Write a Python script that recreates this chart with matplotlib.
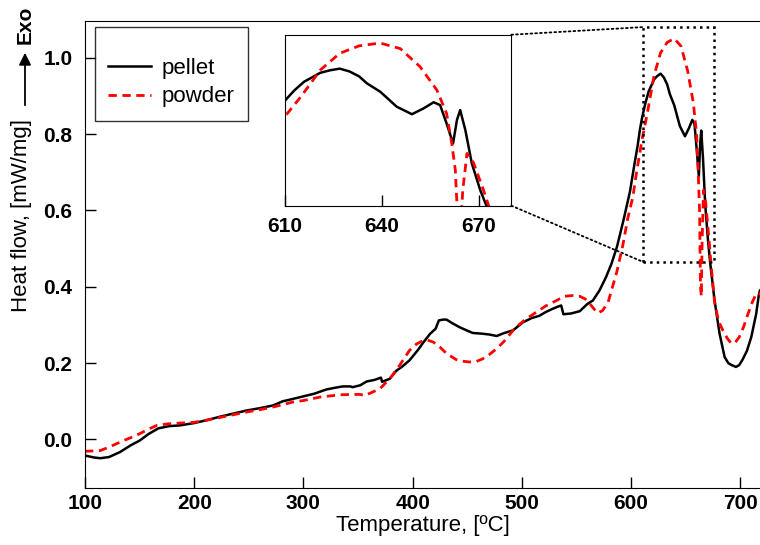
import matplotlib
matplotlib.use("Agg")
import matplotlib.pyplot as plt
from matplotlib.patches import Rectangle, ConnectionPatch

plt.rcParams["font.family"] = ["Liberation Sans", "DejaVu Sans"]

# pellet (black solid)
pellet_t = [100, 108, 114, 122, 132, 142, 150, 158, 167, 177, 187, 200, 212, 224, 236, 248,
            260, 272, 281, 290, 300, 310, 321, 328, 336, 343, 345, 352, 358, 365, 371, 372,
            379, 385, 390, 397, 405, 410, 416, 421, 424, 428, 431, 436, 443, 450, 455, 464,
            470, 477, 483, 492, 501, 509, 516, 522, 528, 533, 536, 538, 545, 553, 560, 565,
            571, 577, 582, 587, 593, 599, 603, 606, 608, 610, 613, 616, 619, 621, 624, 627,
            630, 633, 635.4, 639.5, 644.6, 649.3, 652.9, 656, 658, 660, 662, 663.2, 664.2,
            665.8, 667.8, 670.4, 672.3, 676.4, 681, 685.6, 689, 692, 696, 699, 702, 706,
            710, 714.5, 717, 718]
pellet_v = [-0.042, -0.047, -0.049, -0.046, -0.033, -0.015, -0.003, 0.014, 0.029, 0.035,
            0.037, 0.043, 0.051, 0.060, 0.068, 0.076, 0.082, 0.089, 0.100, 0.106, 0.113,
            0.120, 0.131, 0.135, 0.139, 0.139, 0.137, 0.142, 0.152, 0.156, 0.162, 0.151,
            0.159, 0.180, 0.190, 0.207, 0.235, 0.255, 0.277, 0.290, 0.312, 0.314, 0.314,
            0.305, 0.294, 0.285, 0.279, 0.277, 0.275, 0.271, 0.278, 0.286, 0.307, 0.318,
            0.324, 0.334, 0.342, 0.348, 0.351, 0.328, 0.330, 0.336, 0.355, 0.364, 0.390,
            0.425, 0.460, 0.504, 0.574, 0.650, 0.720, 0.770, 0.810, 0.842, 0.880, 0.911,
            0.930, 0.943, 0.952, 0.958, 0.948, 0.930, 0.905, 0.875, 0.821, 0.794, 0.815,
            0.837, 0.827, 0.761, 0.689, 0.773, 0.809, 0.737, 0.617, 0.521, 0.465, 0.364,
            0.277, 0.216, 0.200, 0.195, 0.190, 0.195, 0.209, 0.232, 0.268, 0.329, 0.380,
            0.390]

# powder (red dashed)
powder_t = [100, 114, 122, 132, 142, 150, 158, 166, 176, 187, 200, 212, 224, 236, 248, 260,
            272, 281, 290, 300, 315, 333, 345, 352, 356, 360, 370, 379, 388, 397, 403.5,
            409.5, 413, 419, 425, 431, 440, 446, 452, 458, 464, 470, 477, 484, 492, 498,
            504, 513, 522, 531, 539, 546, 553, 558, 562, 566, 569.6, 574, 579, 583, 587,
            592.5, 597, 601.6, 605, 610, 615, 621, 627, 633, 639.5, 645.7, 651.8, 657, 660,
            661.6, 662.7, 663.5, 664.3, 665, 666.3, 668.3, 671.4, 673, 676.4, 680, 684, 688,
            691.6, 695, 699, 703, 707, 711, 714.5, 717, 718]
powder_v = [-0.031, -0.029, -0.020, -0.007, 0.005, 0.015, 0.027, 0.037, 0.041, 0.043, 0.045,
            0.051, 0.058, 0.065, 0.072, 0.078, 0.085, 0.091, 0.098, 0.102, 0.111, 0.117,
            0.118, 0.118, 0.115, 0.120, 0.133, 0.159, 0.194, 0.233, 0.250, 0.259, 0.261,
            0.255, 0.242, 0.225, 0.209, 0.205, 0.203, 0.204, 0.211, 0.222, 0.238, 0.258,
            0.286, 0.302, 0.316, 0.333, 0.350, 0.363, 0.375, 0.377, 0.375, 0.368, 0.356,
            0.342, 0.331, 0.338, 0.360, 0.400, 0.440, 0.510, 0.580, 0.635, 0.700, 0.785,
            0.857, 0.953, 1.013, 1.040, 1.050, 1.030, 0.965, 0.881, 0.797, 0.689, 0.593,
            0.400, 0.375, 0.520, 0.653, 0.620, 0.521, 0.465, 0.360, 0.310, 0.286, 0.265,
            0.252, 0.253, 0.268, 0.295, 0.329, 0.360, 0.382, 0.383, 0.378]

x_ticks = [100, 200, 300, 400, 500, 600, 700]
y_ticks = [0.0, 0.2, 0.4, 0.6, 0.8, 1.0]
inset_ticks = [610, 640, 670]
zoom_x = (611, 676)
zoom_y = (0.465, 1.08)

fig = plt.figure(figsize=(7.6, 5.45), dpi=100)
ax = fig.add_axes([0.1118, 0.1046, 0.8882, 0.8569])

ax.plot(pellet_t, pellet_v, color="black", lw=1.8, label="pellet")
ax.plot(powder_t, powder_v, color="#ff0000", lw=2.0, dashes=(3, 2), label="powder")

ax.set_xlim(100, 718)
ax.set_ylim(-0.127, 1.096)
ax.set_xticks(x_ticks)
ax.set_yticks(y_ticks)
ax.set_yticklabels([f"{v:.1f}" for v in y_ticks])
ax.tick_params(direction="in", length=8, width=1, labelsize=15)
ax.tick_params(axis="x", pad=4)
ax.tick_params(axis="y", pad=9)
for lab in ax.get_xticklabels() + ax.get_yticklabels():
    lab.set_fontweight("bold")
ax.spines["right"].set_visible(False)
ax.set_xlabel("Temperature, [ºC]", fontsize=16, labelpad=2)

leg = ax.legend(loc="upper left", bbox_to_anchor=(0.0148, 0.988), borderaxespad=0,
                fontsize=16, frameon=True, fancybox=False, edgecolor="black",
                borderpad=0.6, handlelength=1.9, handletextpad=0.5, labelspacing=0.35,
                title=" ", title_fontsize=8)
leg.get_frame().set_linewidth(1.0)

# y label with Exo arrow
fig.text(22 / 760, 1 - 215 / 545, "Heat flow, [mW/mg]", rotation=90,
         ha="center", va="center", fontsize=16)
fig.text(25 / 760, 1 - 25 / 545, "Exo", rotation=90, ha="center", va="center",
         fontsize=15, fontweight="bold")
ax.annotate("", xy=(25 / 760, 1 - 50 / 545), xycoords="figure fraction",
            xytext=(25 / 760, 1 - 108 / 545), textcoords="figure fraction",
            arrowprops=dict(arrowstyle="-|>", color="black", lw=1.3, mutation_scale=18))

# zoom rectangle on main axes
ax.add_patch(Rectangle((zoom_x[0], zoom_y[0]), zoom_x[1] - zoom_x[0], zoom_y[1] - zoom_y[0],
                       fill=False, ls=":", lw=1.8, ec="black", zorder=5))

# inset
axins = fig.add_axes([0.3746, 0.6226, 0.2982, 0.3137])
axins.plot(pellet_t, pellet_v, color="black", lw=1.8)
axins.plot(powder_t, powder_v, color="#ff0000", lw=2.0, dashes=(3, 2))
axins.set_xlim(610, 680)
axins.set_ylim(zoom_y)
axins.set_xticks(inset_ticks)
axins.set_yticks([])
axins.tick_params(direction="in", length=8, width=1, pad=8, labelsize=15)
for lab in axins.get_xticklabels():
    lab.set_fontweight("bold")

for a_pt, b_pt in [((1, 1), (zoom_x[0], zoom_y[1])), ((1, 0), (zoom_x[0], zoom_y[0]))]:
    con = ConnectionPatch(xyA=a_pt, coordsA=axins.transAxes, xyB=b_pt, coordsB=ax.transData,
                          ls=":", lw=1.3, color="black")
    fig.add_artist(con)

fig.savefig("out.png", dpi=100)
